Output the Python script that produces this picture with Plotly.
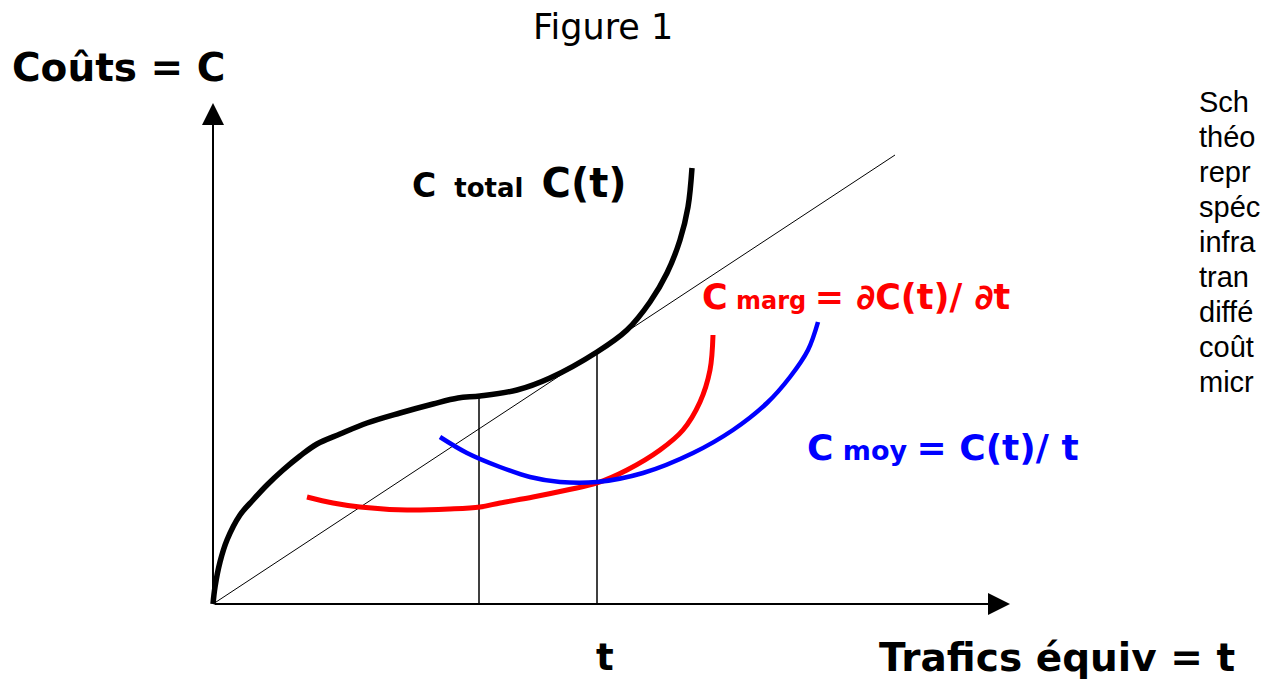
import plotly.graph_objects as go

# ---------------- data (t = trafic, C = coût) ----------------
total_t = [0.00, 0.02, 0.07, 0.14, 0.27, 0.40, 0.54, 0.70, 0.87, 1.04, 1.27, 1.54, 1.87, 2.20, 2.45, 2.67,
           3.04, 3.37, 3.84, 4.14, 4.37, 4.54, 4.67, 4.75, 4.79]
total_c = [0.00, 0.17, 0.42, 0.64, 0.89, 1.04, 1.19, 1.34, 1.48, 1.60, 1.70, 1.81, 1.91, 2.00, 2.06, 2.08,
           2.14, 2.26, 2.52, 2.74, 3.02, 3.31, 3.64, 3.97, 4.36]

marg_t = [0.94, 1.20, 1.47, 1.94, 2.37, 2.67, 2.87, 3.20, 3.54, 3.84, 4.14, 4.47, 4.70, 4.87, 4.97, 5.00]
marg_c = [1.07, 1.01, 0.97, 0.94, 0.95, 0.97, 1.01, 1.07, 1.14, 1.21, 1.34, 1.54, 1.74, 2.02, 2.34, 2.69]

moy_t = [2.27, 2.54, 2.87, 3.17, 3.47, 3.84, 4.30, 4.80, 5.20, 5.54, 5.77, 5.95, 6.05]
moy_c = [1.67, 1.51, 1.37, 1.27, 1.22, 1.22, 1.31, 1.51, 1.74, 2.01, 2.27, 2.54, 2.82]

diag_t = [0.00, 6.82]
diag_c = [0.00, 4.49]

mark_t = [2.66, 3.84]          # traffic levels marked by vertical lines
mark_c = [2.08, 2.52]          # total cost at those levels

x_axis_end = 7.97
y_axis_end = 5.01

side_text = ["Sch", "théo", "repr", "spéc", "infra", "tran", "diffé", "coût", "micr"]

# ---------------- figure ----------------
fig = go.Figure()

fig.add_trace(go.Scatter(x=diag_t, y=diag_c, mode="lines",
                         line=dict(color="black", width=1), hoverinfo="skip"))
for t, c in zip(mark_t, mark_c):
    fig.add_trace(go.Scatter(x=[t, t], y=[0, c], mode="lines",
                             line=dict(color="black", width=1.5), hoverinfo="skip"))

fig.add_trace(go.Scatter(x=total_t, y=total_c, mode="lines",
                         line=dict(color="black", width=5.5, shape="spline", smoothing=1), hoverinfo="skip"))
fig.add_trace(go.Scatter(x=marg_t, y=marg_c, mode="lines",
                         line=dict(color="#ff0000", width=5, shape="spline", smoothing=1), hoverinfo="skip"))
fig.add_trace(go.Scatter(x=moy_t, y=moy_c, mode="lines",
                         line=dict(color="#0000ff", width=4.5, shape="spline", smoothing=1), hoverinfo="skip"))

bold = "DejaVu Sans"
ann = []
# axes arrows
ann.append(dict(x=x_axis_end, y=0, ax=0, ay=0, xref="x", yref="y", axref="x", ayref="y",
                text="", showarrow=True, arrowhead=2, arrowsize=2.2, arrowwidth=2, arrowcolor="black"))
ann.append(dict(x=0, y=y_axis_end, ax=0, ay=0, xref="x", yref="y", axref="x", ayref="y",
                text="", showarrow=True, arrowhead=2, arrowsize=2.2, arrowwidth=2, arrowcolor="black"))

ann.append(dict(x=1.97, y=4.21, xref="x", yref="y", xanchor="left", yanchor="middle", showarrow=False,
                text="<b><span style='font-size:33px'>C</span><span style='font-size:26px'>&nbsp;&nbsp;total&nbsp;&nbsp;</span>"
                     "<span style='font-size:40px'>C(t)</span></b>",
                font=dict(family=bold, color="black", size=33)))
ann.append(dict(x=4.87, y=3.07, xref="x", yref="y", xanchor="left", yanchor="middle", showarrow=False,
                text="<b><span style='font-size:35px'>C</span><span style='font-size:24px'>&nbsp;marg&nbsp;</span>"
                     "<span style='font-size:35px'>= ∂C(t)/ ∂t</span></b>",
                font=dict(family=bold, color="#ff0000", size=35)))
ann.append(dict(x=5.92, y=1.57, xref="x", yref="y", xanchor="left", yanchor="middle", showarrow=False,
                text="<b><span style='font-size:36px'>C</span><span style='font-size:27px'>&nbsp;moy&nbsp;</span>"
                     "<span style='font-size:36px'>= C(t)/ t</span></b>",
                font=dict(family=bold, color="#0000ff", size=36)))
ann.append(dict(x=mark_t[1] + 0.08, y=-0.53, xref="x", yref="y", xanchor="center", yanchor="middle",
                showarrow=False, text="<b>t</b>", font=dict(family=bold, color="black", size=37)))
ann.append(dict(x=6.64, y=-0.53, xref="x", yref="y", xanchor="left", yanchor="middle",
                showarrow=False, text="<b>Trafics équiv = t</b>", font=dict(family=bold, color="black", size=39)))
ann.append(dict(x=-2.03, y=5.37, xref="x", yref="y", xanchor="left", yanchor="middle",
                showarrow=False, text="<b>Coûts = C</b>", font=dict(family=bold, color="black", size=39)))
ann.append(dict(x=603 / 1262, y=1 - 27 / 680, xref="paper", yref="paper", xanchor="center", yanchor="middle",
                showarrow=False, text="Figure 1", font=dict(family="DejaVu Sans", color="black", size=35)))

for i, line in enumerate(side_text):
    ann.append(dict(x=1197 / 1262, y=1 - (102 + 35 * i) / 680, xref="paper", yref="paper",
                    xanchor="left", yanchor="middle", showarrow=False, text=line,
                    font=dict(family="Liberation Sans", color="black", size=29)))

fig.update_layout(
    width=1262, height=680,
    margin=dict(l=0, r=0, t=0, b=0),
    paper_bgcolor="white", plot_bgcolor="white",
    showlegend=False,
    xaxis=dict(range=[-2.13, 10.49], visible=False, fixedrange=True),
    yaxis=dict(range=[-0.76, 6.04], visible=False, fixedrange=True),
    annotations=ann,
)

fig.write_html("out.html", config={"displayModeBar": False},
               post_script="document.body.style.margin='0';document.body.style.overflow='hidden';")
